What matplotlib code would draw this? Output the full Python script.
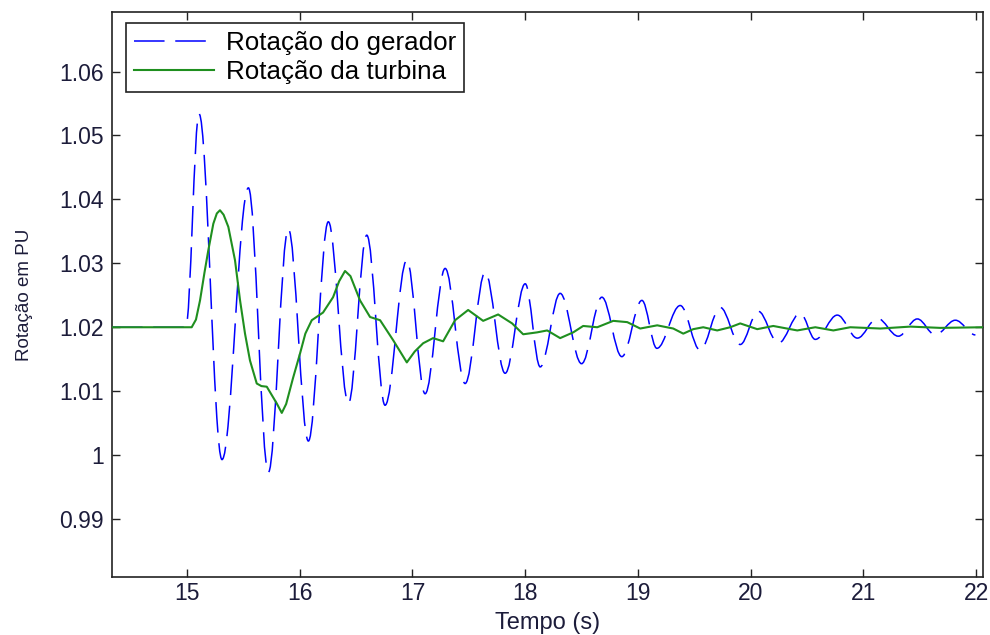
import numpy as np
import matplotlib.pyplot as plt
from matplotlib.path import Path
from matplotlib.patches import PathPatch
from matplotlib.lines import Line2D

plt.rcParams['font.family'] = ['Liberation Sans', 'DejaVu Sans']

# generator speed: flat start, then peaks/troughs
ger_t = [14.335, 14.99, 15.107, 15.311, 15.545, 15.722, 15.899, 16.077, 16.254, 16.432,
         16.595, 16.757, 16.95, 17.112, 17.29, 17.467, 17.645, 17.822, 18.0, 18.133,
         18.31, 18.5, 18.68, 18.857, 19.035, 19.168, 19.375, 19.552, 19.73, 19.907,
         20.067, 20.245, 20.44, 20.573, 20.768, 20.946, 21.123, 21.309, 21.478, 21.637,
         21.815, 21.993]
ger_v = [1.0200, 1.0200, 1.0534, 0.9993, 1.0418, 0.9973, 1.0354, 1.0022, 1.0365, 1.0081,
         1.0344, 1.0078, 1.0305, 1.0096, 1.0292, 1.0112, 1.0286, 1.0128, 1.0268, 1.0138,
         1.0253, 1.0143, 1.0247, 1.0154, 1.0242, 1.0167, 1.0234, 1.0164, 1.0231, 1.0173,
         1.0225, 1.0175, 1.0222, 1.0181, 1.0219, 1.0183, 1.0214, 1.0186, 1.0213, 1.0188,
         1.0211, 1.0188]

# turbine speed
tur_t = [14.335, 15.042, 15.08, 15.116, 15.155, 15.189, 15.234, 15.265, 15.293, 15.325,
         15.367, 15.426, 15.471, 15.515, 15.559, 15.619, 15.66, 15.708, 15.796, 15.841,
         15.88, 15.94, 16.003, 16.05, 16.107, 16.207, 16.296, 16.35, 16.402, 16.45,
         16.535, 16.624, 16.713, 16.828, 16.95, 17.02, 17.095, 17.183, 17.272, 17.378,
         17.494, 17.627, 17.76, 17.884, 17.982, 18.106, 18.195, 18.31, 18.426, 18.514,
         18.639, 18.781, 18.905, 19.02, 19.171, 19.313, 19.402, 19.49, 19.579, 19.703,
         19.818, 19.907, 20.058, 20.2, 20.413, 20.573, 20.733, 20.883, 21.15, 21.416,
         21.682, 22.063]
tur_v = [1.0200, 1.0200, 1.0212, 1.0242, 1.0285, 1.0320, 1.0362, 1.0378, 1.0383, 1.0376,
         1.0357, 1.0305, 1.0242, 1.0190, 1.0148, 1.0112, 1.0108, 1.0107, 1.0081, 1.0066,
         1.0080, 1.0120, 1.0159, 1.0190, 1.0211, 1.0223, 1.0247, 1.0272, 1.0288, 1.0280,
         1.0242, 1.0216, 1.0211, 1.0180, 1.0145, 1.0162, 1.0175, 1.0183, 1.0178, 1.0211,
         1.0227, 1.0210, 1.0220, 1.0206, 1.0189, 1.0192, 1.0195, 1.0183, 1.0192, 1.0202,
         1.0200, 1.0210, 1.0208, 1.0198, 1.0203, 1.0198, 1.0190, 1.0197, 1.0200, 1.0195,
         1.0200, 1.0206, 1.0197, 1.0202, 1.0195, 1.0200, 1.0195, 1.0200, 1.0198, 1.0201,
         1.0199, 1.0200]

xticks = [15, 16, 17, 18, 19, 20, 21, 22]
yticks = [0.99, 1.0, 1.01, 1.02, 1.03, 1.04, 1.05, 1.06]
ytick_labels = ['0.99', '1', '1.01', '1.02', '1.03', '1.04', '1.05', '1.06']

blue = '#0000ff'
green = '#1f8f1f'
dash = (0, (20, 7))

fig = plt.figure(figsize=(9.9, 6.35), dpi=100)
ax = fig.add_axes([0.1131, 0.092, 0.8798, 0.889])

# smooth curve through the extrema (horizontal tangent at each one)
verts = [(ger_t[0], ger_v[0]), (ger_t[1], ger_v[1])]
codes = [Path.MOVETO, Path.LINETO]
for i in range(1, len(ger_t) - 1):
    t0, v0 = ger_t[i], ger_v[i]
    t1, v1 = ger_t[i + 1], ger_v[i + 1]
    k = 0.36 * (t1 - t0)
    verts += [(t0 + k, v0), (t1 - k, v1), (t1, v1)]
    codes += [Path.CURVE4] * 3
ax.add_patch(PathPatch(Path(verts, codes), fill=False, edgecolor=blue,
                       lw=1.1, linestyle=dash, zorder=2))

ax.plot(tur_t, tur_v, color=green, lw=1.5, zorder=3)

ax.set_xlim(14.335, 22.06)
ax.set_ylim(0.981, 1.0693)
ax.set_xticks(xticks)
ax.set_yticks(yticks)
ax.set_yticklabels(ytick_labels)
ax.tick_params(direction='in', top=True, right=True, length=6, width=1,
               labelsize=16.5, colors='#222', labelcolor='#1c1c3a')
ax.tick_params(axis='x', pad=4)
ax.tick_params(axis='y', pad=6)
for s in ax.spines.values():
    s.set_linewidth(1.2)
    s.set_color('#222')

ax.set_xlabel('Tempo (s)', fontsize=17, color='#1c1c3a', labelpad=5)
ax.set_ylabel('Rotação em PU', fontsize=13.5, color='#1c1c3a', labelpad=19)

handles = [Line2D([], [], color=blue, lw=1.1, linestyle=dash),
           Line2D([], [], color=green, lw=1.5)]
leg = ax.legend(handles, ['Rotação do gerador', 'Rotação da turbina'],
                loc='upper left', bbox_to_anchor=(0.016, 0.98), borderaxespad=0,
                fontsize=18.7, handlelength=3.1, fancybox=False, framealpha=1,
                edgecolor='#222', borderpad=0.3, labelspacing=0.2, handletextpad=0.45)
leg.get_frame().set_linewidth(1.2)

fig.savefig('out.png', dpi=100)
